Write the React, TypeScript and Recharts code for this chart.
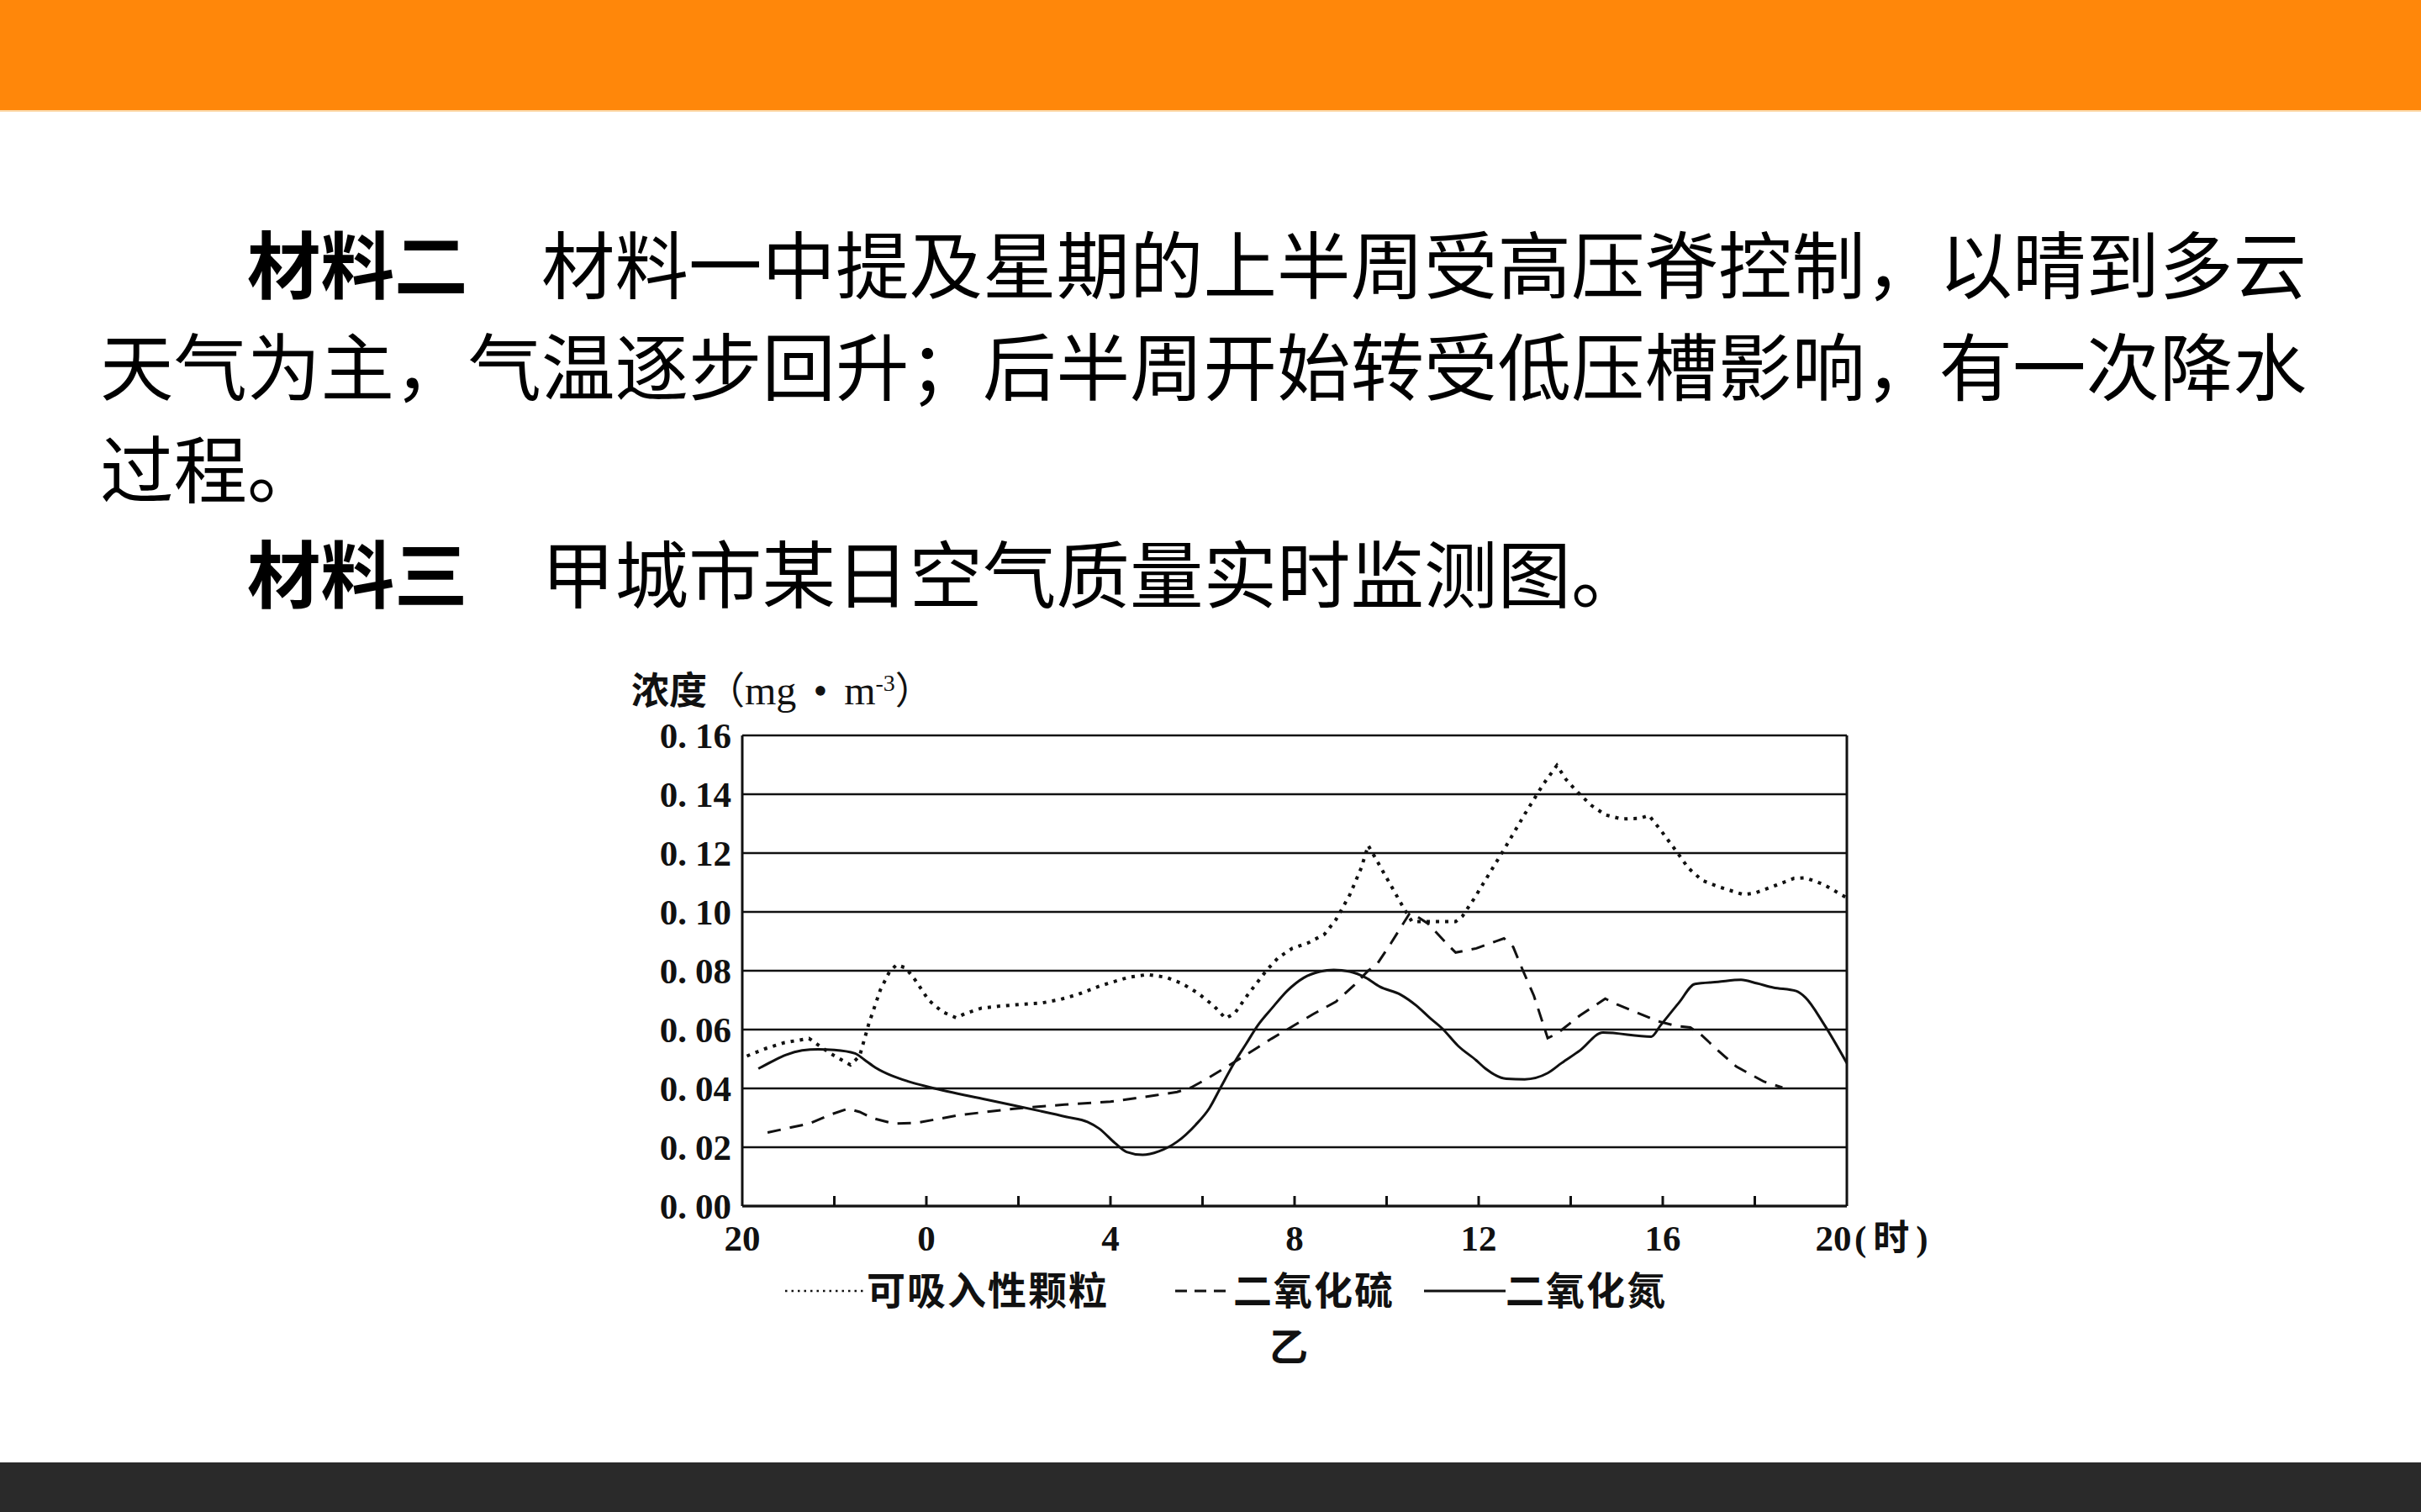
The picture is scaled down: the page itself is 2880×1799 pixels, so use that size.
import React from 'react';
import { LineChart, Line, XAxis, YAxis, CartesianGrid, ReferenceLine, Legend } from 'recharts';

// x = hours since 20:00 of the previous day (0..24)
const xTicks = [0, 2, 4, 6, 8, 10, 12, 14, 16, 18, 20, 22, 24];
const hourLabels = ['20', '0', '4', '8', '12', '16', '20'];
const yTicks = [0, 0.02, 0.04, 0.06, 0.08, 0.1, 0.12, 0.14, 0.16];

const seriesNames = ['可吸入性颗粒', '二氧化硫', '二氧化氮'];

// 可吸入性颗粒 (dotted)
const pmHours = [0.1, 0.5, 0.9, 1.45, 1.9, 2.35, 2.55, 2.75, 3.0, 3.2, 3.35, 3.55, 3.75, 4.05, 4.35, 4.65, 4.85, 5.2, 5.6, 6.1, 6.5, 6.9, 7.3, 7.8, 8.4, 8.8, 9.2, 9.55, 9.9, 10.25, 10.5, 10.7, 11.0, 11.4, 11.65, 11.95, 12.3, 12.65, 12.9, 13.2, 13.45, 13.6, 13.8, 14.1, 14.35, 14.55, 15.5, 15.65, 15.9, 16.2, 16.6, 17.0, 17.4, 17.7, 17.9, 18.15, 18.45, 18.75, 19.1, 19.5, 19.7, 19.95, 20.3, 20.55, 20.85, 21.2, 21.75, 22.0, 22.45, 22.85, 23.1, 23.5, 24];
const pmValues = [0.051, 0.0535, 0.0555, 0.057, 0.052, 0.048, 0.051, 0.062, 0.0735, 0.0797, 0.082, 0.081, 0.077, 0.07, 0.066, 0.064, 0.0655, 0.0673, 0.068, 0.0686, 0.069, 0.0702, 0.072, 0.075, 0.0778, 0.0787, 0.0778, 0.0757, 0.0724, 0.068, 0.0638, 0.0655, 0.0722, 0.0803, 0.0845, 0.0876, 0.0895, 0.0924, 0.0974, 0.1058, 0.115, 0.1226, 0.1171, 0.1088, 0.1019, 0.0967, 0.0967, 0.0986, 0.1045, 0.1122, 0.1225, 0.1332, 0.1433, 0.1498, 0.145, 0.1407, 0.1362, 0.133, 0.1316, 0.1318, 0.1328, 0.1279, 0.1205, 0.115, 0.1108, 0.1086, 0.1059, 0.1064, 0.109, 0.1114, 0.1116, 0.1093, 0.1048];

// 二氧化硫 (dashed)
const so2Hours = [0.55, 1.05, 1.45, 1.9, 2.3, 2.55, 2.85, 3.3, 3.8, 4.7, 5.9, 7.0, 8.0, 9.0, 9.45, 9.75, 10.1, 10.8, 11.5, 12.4, 12.9, 13.3, 13.6, 13.8, 14.1, 14.5, 14.65, 14.9, 15.3, 15.5, 15.95, 16.55, 16.75, 16.95, 17.2, 17.5, 17.7, 18.2, 18.75, 19.0, 19.9, 20.3, 20.6, 20.85, 21.2, 21.6, 22.2, 22.6];
const so2Values = [0.025, 0.0267, 0.028, 0.031, 0.0331, 0.032, 0.0298, 0.028, 0.0283, 0.0309, 0.0331, 0.0345, 0.0355, 0.0377, 0.0388, 0.0403, 0.0433, 0.05, 0.0569, 0.0652, 0.0695, 0.0752, 0.08, 0.0824, 0.0895, 0.0995, 0.0986, 0.096, 0.0893, 0.0862, 0.0876, 0.091, 0.0881, 0.0805, 0.0715, 0.0571, 0.0586, 0.0648, 0.0705, 0.0686, 0.0628, 0.0612, 0.0607, 0.058, 0.0529, 0.0474, 0.0423, 0.0403];

// 二氧化氮 (solid)
const no2Hours = [0.35, 0.65, 0.95, 1.3, 1.65, 2.0, 2.45, 2.65, 2.9, 3.25, 3.6, 4.1, 5.3, 6.45, 7.05, 7.5, 7.75, 8.1, 8.35, 8.7, 9.05, 9.45, 9.85, 10.15, 10.4, 10.7, 10.95, 11.2, 11.5, 11.85, 12.2, 12.55, 12.85, 13.2, 13.55, 13.85, 14.3, 14.65, 14.95, 15.2, 15.55, 15.95, 16.15, 16.6, 17.0, 17.5, 17.8, 18.2, 18.7, 19.75, 19.95, 20.35, 20.7, 21.2, 21.7, 22.05, 22.4, 22.9, 23.1, 23.5, 24];
const no2Values = [0.0467, 0.0492, 0.0514, 0.0529, 0.0533, 0.0531, 0.0519, 0.0498, 0.047, 0.0443, 0.0424, 0.0403, 0.0362, 0.0324, 0.0303, 0.0286, 0.0264, 0.0214, 0.0184, 0.0174, 0.0186, 0.0219, 0.0276, 0.0333, 0.0405, 0.049, 0.0552, 0.0614, 0.0671, 0.0733, 0.0776, 0.0797, 0.0803, 0.0797, 0.0776, 0.0746, 0.0719, 0.0681, 0.0638, 0.0605, 0.0545, 0.0495, 0.0467, 0.0433, 0.0431, 0.0452, 0.0486, 0.0529, 0.059, 0.0576, 0.0614, 0.0691, 0.0755, 0.0762, 0.0769, 0.0757, 0.0743, 0.0731, 0.0709, 0.0619, 0.0486];

const toPoints = (hs: number[], vs: number[]) => hs.map((h, i) => ({ h, v: vs[i] }));
const pmData = toPoints(pmHours, pmValues);
const so2Data = toPoints(so2Hours, so2Values);
const no2Data = toPoints(no2Hours, no2Values);

const INK = '#111';
const CJK = "'Noto Sans CJK SC', sans-serif";
const SERIF = "'Liberation Serif', 'Times New Roman', serif";

// legend sample dash styles, in series order
const legendDash = ['2.5 5', '14 9', undefined];
const legendSampleX = [14, 478, 774];
const legendSampleLen = [97, 69, 97];

const YTick = (props: any) => {
  const { x, y, payload } = props;
  const [a, b] = Number(payload.value).toFixed(2).split('.');
  return (
    <text x={x} y={y} dy={15} textAnchor="end" fontFamily={SERIF} fontWeight={700} fontSize={43} fill={INK}>
      <tspan>{a}.</tspan>
      <tspan dx={10}>{b}</tspan>
    </text>
  );
};

const XTick = (props: any) => {
  const { x, y, payload } = props;
  const h = payload.value;
  const label = h % 4 === 0 ? hourLabels[h / 4] : null;
  const last = h === 24;
  return (
    <g>
      {h > 0 && h < 24 && <line x1={x} x2={x} y1={y} y2={y - 12} stroke={INK} strokeWidth={3} />}
      {label && (
        <text x={last ? x - 16 : x} y={y + 53} textAnchor="middle" fontFamily={SERIF} fontWeight={700} fontSize={43} fill={INK}>
          {label}
        </text>
      )}
      {last && (
        <text x={x + 9} y={y + 53} textAnchor="start" fontSize={43} fontWeight={700} fill={INK}>
          <tspan fontFamily={SERIF}>(</tspan>
          <tspan dx={8} fontFamily={CJK}>时</tspan>
          <tspan dx={8} fontFamily={SERIF}>)</tspan>
        </text>
      )}
    </g>
  );
};

const LegendContent = (props: any) => {
  const { payload = [] } = props;
  return (
    <svg width={1100} height={80}>
      {payload.map((entry: any) => {
        const i = seriesNames.indexOf(entry.value);
        if (i < 0) return null;
        const x0 = legendSampleX[i];
        const x1 = x0 + legendSampleLen[i];
        return (
          <g key={entry.value}>
            <line x1={x0} x2={x1} y1={46} y2={46} stroke={INK} strokeWidth={i === 0 ? 2.5 : 3} strokeDasharray={legendDash[i]} />
            <text x={x1} y={61.5} fontFamily={CJK} fontWeight={700} fontSize={46} letterSpacing={2} fill={INK}>
              {entry.value}
            </text>
          </g>
        );
      })}
    </svg>
  );
};

const lineStyle = { position: 'absolute' as const, left: 119, fontFamily: CJK, fontSize: 87.5, lineHeight: '100px', whiteSpace: 'pre' as const, color: '#000' };

export default function App() {
  return (
    <div style={{ position: 'absolute', left: 0, top: 0, width: 2880, height: 1799, background: '#fff', overflow: 'hidden' }}>
      <div style={{ position: 'absolute', left: 0, top: 0, width: 2880, height: 131, background: '#FF870A' }} />
      <div style={{ position: 'absolute', left: 0, top: 131, width: 2880, height: 2, background: '#FCD9A8' }} />

      <div style={{ ...lineStyle, top: 261 }}>
        {'\u3000\u3000'}<b style={{ fontWeight: 700 }}>材料二</b>{'\u3000'}材料一中提及星期的上半周受高压脊控制，以晴到多云
      </div>
      <div style={{ ...lineStyle, top: 382 }}>天气为主，气温逐步回升；后半周开始转受低压槽影响，有一次降水</div>
      <div style={{ ...lineStyle, top: 504 }}>过程。</div>
      <div style={{ ...lineStyle, top: 629 }}>
        {'\u3000\u3000'}<b style={{ fontWeight: 700 }}>材料三</b>{'\u3000'}甲城市某日空气质量实时监测图。
      </div>

      <div style={{ position: 'absolute', left: 751, top: 783, fontFamily: CJK, fontSize: 45, lineHeight: '60px', whiteSpace: 'pre', color: INK }}>
        <span style={{ fontWeight: 700 }}>浓度</span>
        <span>（</span>
        <span style={{ fontFamily: SERIF, fontSize: 48 }}>mg</span>
        <span style={{ fontFamily: SERIF, fontSize: 48, margin: '0 8px' }}> • </span>
        <span style={{ fontFamily: SERIF, fontSize: 48 }}>m</span>
        <span style={{ fontFamily: SERIF, fontSize: 28, verticalAlign: 'super' }}>-3</span>
        <span>）</span>
      </div>

      <div style={{ position: 'absolute', left: 700, top: 740 }}>
        <LineChart width={1600} height={940} margin={{ top: 135, right: 103, left: 0, bottom: 0 }}>
          <CartesianGrid vertical={false} stroke={INK} strokeWidth={2.5} />
          <XAxis
            type="number"
            dataKey="h"
            domain={[0, 24]}
            ticks={xTicks}
            interval={0}
            allowDataOverflow
            height={245}
            tickSize={0}
            tickMargin={0}
            tickLine={false}
            axisLine={{ stroke: INK, strokeWidth: 3 }}
            tick={(p: any) => <XTick {...p} />}
          />
          <YAxis
            type="number"
            domain={[0, 0.16]}
            ticks={yTicks}
            interval={0}
            width={183}
            tickSize={0}
            tickMargin={13}
            tickLine={false}
            axisLine={{ stroke: INK, strokeWidth: 3 }}
            tick={(p: any) => <YTick {...p} />}
          />
          <ReferenceLine x={24} stroke={INK} strokeWidth={3} />
          <Line data={pmData} dataKey="v" name={seriesNames[0]} type="linear" stroke={INK} strokeWidth={4} strokeDasharray="4 7" dot={false} activeDot={false} isAnimationActive={false} />
          <Line data={so2Data} dataKey="v" name={seriesNames[1]} type="linear" stroke={INK} strokeWidth={3} strokeDasharray="16 11" dot={false} activeDot={false} isAnimationActive={false} />
          <Line data={no2Data} dataKey="v" name={seriesNames[2]} type="monotone" stroke={INK} strokeWidth={3} dot={false} activeDot={false} isAnimationActive={false} />
          <Legend
            verticalAlign="middle"
            align="center"
            layout="horizontal"
            wrapperStyle={{ left: 220, top: 750, width: 1100, height: 80 }}
            content={(p: any) => <LegendContent {...p} />}
          />
        </LineChart>
      </div>

      <div style={{ position: 'absolute', left: 1510, top: 1569, fontFamily: CJK, fontSize: 46, fontWeight: 700, lineHeight: '60px', color: INK }}>乙</div>

      <div style={{ position: 'absolute', left: 0, top: 1740, width: 2880, height: 59, background: '#2A2A2A' }} />
    </div>
  );
}
